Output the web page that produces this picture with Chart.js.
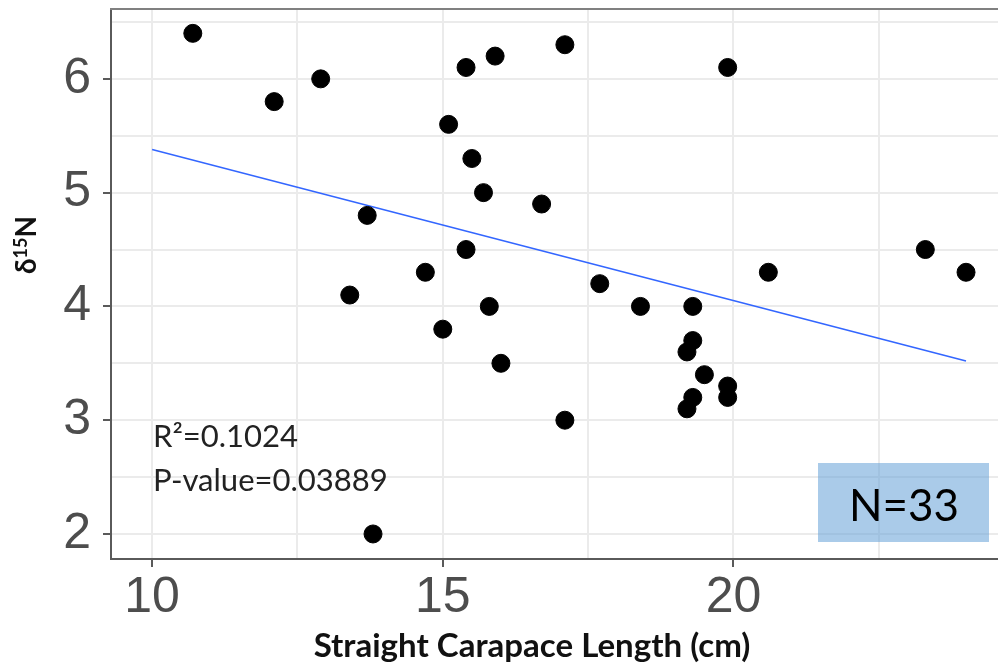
<!DOCTYPE html>
<html>
<head>
<meta charset="utf-8">
<script src="https://cdn.jsdelivr.net/npm/chart.js@4/dist/chart.umd.min.js"></script>
<style>
  html, body { margin: 0; padding: 0; background: #fff; }
  #wrap { width: 998px; height: 671px; }
</style>
</head>
<body>
<div id="wrap"><canvas id="grafico" width="998" height="671"></canvas></div>
<script>
// straight carapace length (cm) and d15N for each turtle
const scl = [10.7, 12.1, 12.9, 13.4, 13.7, 13.8, 14.7, 15.0, 15.1, 15.4, 15.4, 15.5, 15.7, 15.8, 15.9, 16.0, 16.7,
  17.1, 17.1, 17.7, 18.4, 19.2, 19.2, 19.3, 19.3, 19.3, 19.5, 19.9, 19.9, 19.9, 20.6, 23.3, 24.0];
const d15N = [6.4, 5.8, 6.0, 4.1, 4.8, 2.0, 4.3, 3.8, 5.6, 6.1, 4.5, 5.3, 5.0, 4.0, 6.2, 3.5, 4.9,
  6.3, 3.0, 4.2, 4.0, 3.6, 3.1, 4.0, 3.7, 3.2, 3.4, 6.1, 3.3, 3.2, 4.3, 4.5, 4.3];

// fitted line ends
const fitX = [10, 24.0];
const fitY = [5.38, 3.52];

const xTicks = [10, 15, 20];
const yTicks = [2, 3, 4, 5, 6];

const puntos = scl.map((x, i) => ({ x, y: d15N[i] }));
const linea = fitX.map((x, i) => ({ x, y: fitY[i] }));

const GRID = "#ebebeb";
const AXIS = "#5a5a5a";
const TICK_TXT = "#4d4d4d";

// pick a font size so a text gets a given width
function fitFont(ctx, text, weight, family, width) {
  ctx.font = `${weight} 100px ${family}`;
  const w = ctx.measureText(text).width;
  return 100 * width / w;
}

const textos = {
  id: "textos",
  afterDraw(chart) {
    const ctx = chart.ctx;
    const a = chart.chartArea;
    ctx.save();

    // top border of panel
    ctx.strokeStyle = "#808080";
    ctx.lineWidth = 2;
    ctx.beginPath();
    ctx.moveTo(a.left - 1, a.top);
    ctx.lineTo(a.right, a.top);
    ctx.stroke();

    // N box
    ctx.fillStyle = "rgba(100,160,215,0.55)";
    ctx.fillRect(818, 463, 171, 79);
    ctx.fillStyle = "#000";
    let s = fitFont(ctx, "N=33", "normal", "Lato", 110);
    ctx.font = `normal ${s}px Lato`;
    ctx.textAlign = "left";
    ctx.textBaseline = "alphabetic";
    ctx.fillText("N=33", 849, 521);

    // R2 and p
    s = fitFont(ctx, "P-value=0.03889", "normal", "Lato", 235);
    ctx.font = `normal ${s}px Lato`;
    ctx.fillStyle = "#222";
    ctx.fillText("R\u00b2=0.1024", 153, 447);
    ctx.fillText("P-value=0.03889", 153, 491);

    // x title
    s = fitFont(ctx, "Straight Carapace Length (cm)", "bold", "Lato", 437);
    ctx.font = `bold ${s}px Lato`;
    ctx.fillStyle = "#111";
    ctx.textAlign = "center";
    ctx.fillText("Straight Carapace Length (cm)", 532, 657);

    // y title, rotated, with superscript
    ctx.translate(36, 245);
    ctx.rotate(-Math.PI / 2);
    const big = "bold 28px Lato";
    const small = "bold 18px Lato";
    ctx.font = big;
    const wd = ctx.measureText("\u03b4").width;
    const wn = ctx.measureText("N").width;
    ctx.font = small;
    const w15 = ctx.measureText("15").width;
    let x0 = -(wd + w15 + wn) / 2;
    ctx.textAlign = "left";
    ctx.font = big;
    ctx.fillText("\u03b4", x0, 0);
    ctx.font = small;
    ctx.fillText("15", x0 + wd, -9);
    ctx.font = big;
    ctx.fillText("N", x0 + wd + w15, 0);

    ctx.restore();
  }
};

const ctx = document.getElementById("grafico").getContext("2d");
new Chart(ctx, {
  type: "scatter",
  data: {
    datasets: [
      {
        label: "d15N",
        data: puntos,
        backgroundColor: "#000",
        borderColor: "#000",
        pointRadius: 9,
        pointHoverRadius: 9,
        order: 0
      },
      {
        type: "line",
        label: "ajuste",
        data: linea,
        borderColor: "#3366ff",
        borderWidth: 1.5,
        pointRadius: 0,
        fill: false,
        order: 1
      }
    ]
  },
  plugins: [textos],
  options: {
    responsive: false,
    animation: false,
    layout: { autoPadding: false, padding: { top: 9, right: 0, left: 0, bottom: 0 } },
    plugins: {
      legend: { display: false },
      tooltip: { enabled: false }
    },
    scales: {
      x: {
        type: "linear",
        min: 9.293,
        max: 24.55,
        afterFit: s => { s.height = 112; s.paddingLeft = 0; s.paddingRight = 0; },
        border: { display: true, color: AXIS, width: 2 },
        grid: {
          color: GRID,
          lineWidth: 2,
          drawTicks: true,
          tickLength: 8,
          tickWidth: 2,
          tickColor: c => (c.tick && xTicks.includes(c.tick.value)) ? AXIS : "rgba(0,0,0,0)"
        },
        ticks: {
          stepSize: 2.5,
          includeBounds: false,
          autoSkip: false,
          maxRotation: 0,
          padding: 1,
          color: TICK_TXT,
          font: { family: "Liberation Sans", size: 50 },
          callback: v => xTicks.includes(v) ? String(v) : ""
        }
      },
      y: {
        type: "linear",
        min: 1.78,
        max: 6.614,
        afterFit: s => { s.width = 111; s.paddingTop = 0; s.paddingBottom = 0; },
        border: { display: true, color: AXIS, width: 2 },
        grid: {
          color: GRID,
          lineWidth: 2,
          drawTicks: true,
          tickLength: 8,
          tickWidth: 2,
          tickColor: c => (c.tick && yTicks.includes(c.tick.value)) ? AXIS : "rgba(0,0,0,0)"
        },
        ticks: {
          stepSize: 0.5,
          includeBounds: false,
          autoSkip: false,
          padding: 12,
          color: TICK_TXT,
          font: { family: "Liberation Sans", size: 50 },
          callback: v => yTicks.includes(v) ? String(v) : ""
        }
      }
    }
  }
});
</script>
</body>
</html>
